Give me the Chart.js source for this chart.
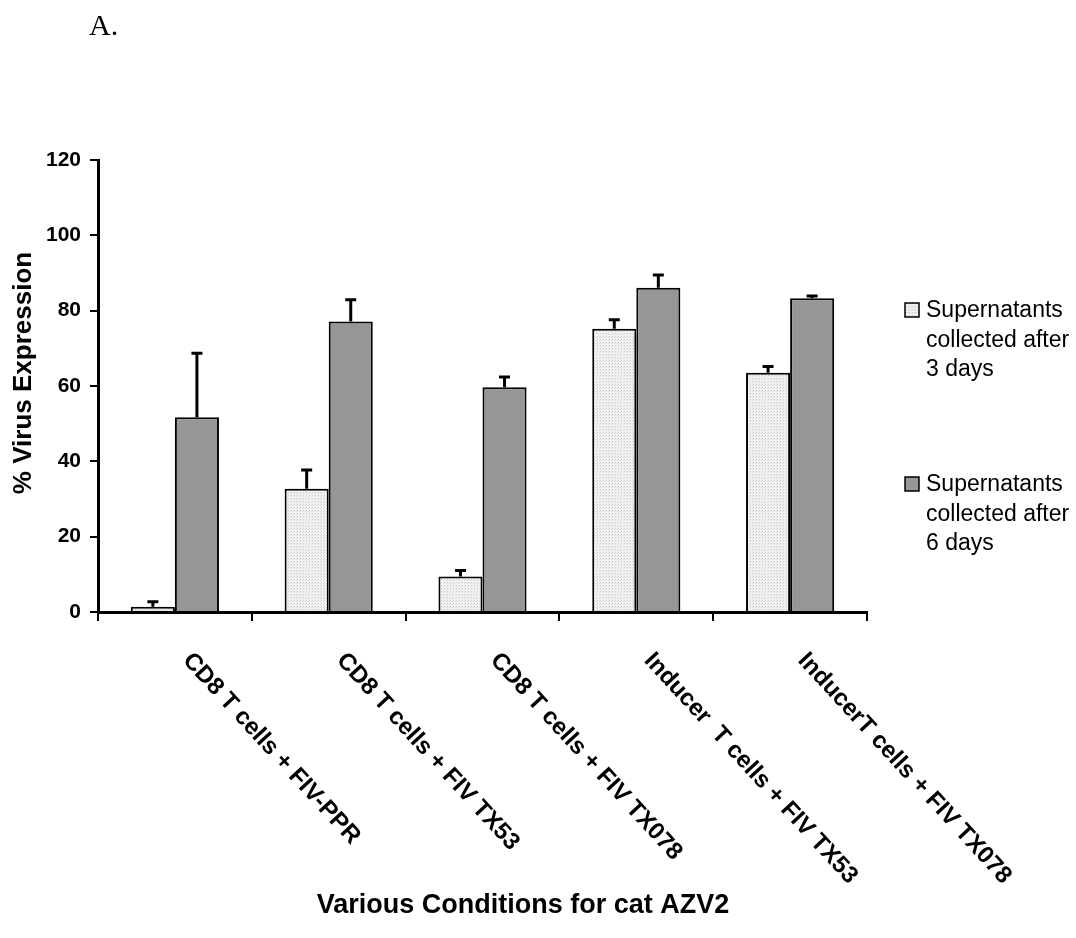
<!DOCTYPE html>
<html>
<head>
<meta charset="utf-8">
<script src="https://cdn.jsdelivr.net/npm/chart.js@4.4.1/dist/chart.umd.min.js"></script>
<style>
html,body{margin:0;padding:0;background:#fff;}
canvas{display:block;}
</style>
</head>
<body>
<canvas id="c" width="1076" height="938"></canvas>
<script>
// ---- data ----
const categories = [
  "CD8 T cells + FIV-PPR",
  "CD8 T cells + FIV TX53",
  "CD8 T cells + FIV TX078",
  "Inducer  T cells + FIV TX53",
  "InducerT cells + FIV TX078"
];
const day3Values = [1.4, 32.7, 9.4, 75.2, 63.5];
const day3Errors = [1.3, 5.0, 1.6, 2.4, 1.7];
const day6Values = [51.7, 77.1, 59.7, 86.1, 83.3];
const day6Errors = [17.0, 5.8, 2.7, 3.4, 0.6];
const seriesLabels = [
  ["Supernatants", "collected after", "3 days"],
  ["Supernatants", "collected after", "6 days"]
];
const yTicks = [0, 20, 40, 60, 80, 100, 120];
const xTitle = "Various Conditions for cat AZV2";
const yTitle = "% Virus Expression";
const panelLabel = "A.";

// ---- styles ----
function makePattern() {
  const p = document.createElement('canvas');
  p.width = 3; p.height = 3;
  const g = p.getContext('2d');
  g.fillStyle = '#f2f2f2';
  g.fillRect(0, 0, 3, 3);
  g.fillStyle = '#c4c4c4';
  g.fillRect(0, 0, 1, 1);
  g.fillStyle = '#d8d8d8';
  g.fillRect(2, 1, 1, 1);
  return document.getElementById('c').getContext('2d').createPattern(p, 'repeat');
}
const lightFill = makePattern();
const darkFill = '#969696';
const SANS = '"Liberation Sans", Arial, sans-serif';

const errorBars = {
  id: 'errorBars',
  afterDatasetsDraw(chart) {
    const ctx = chart.ctx;
    const y = chart.scales.y;
    const errs = [day3Errors, day6Errors];
    ctx.save();
    ctx.strokeStyle = '#000';
    ctx.lineWidth = 3;
    chart.data.datasets.forEach((ds, di) => {
      const meta = chart.getDatasetMeta(di);
      meta.data.forEach((bar, i) => {
        const top = y.getPixelForValue(ds.data[i] + errs[di][i]);
        const base = y.getPixelForValue(ds.data[i]);
        ctx.beginPath();
        ctx.moveTo(bar.x, base);
        ctx.lineTo(bar.x, top);
        ctx.moveTo(bar.x - 5.5, top);
        ctx.lineTo(bar.x + 5.5, top);
        ctx.stroke();
      });
    });
    ctx.restore();
  }
};

const decorations = {
  id: 'decorations',
  afterDraw(chart) {
    const ctx = chart.ctx;
    const xs = chart.scales.x;
    const area = chart.chartArea;
    ctx.save();
    ctx.fillStyle = '#000';
    // rotated category labels
    ctx.font = 'bold 24px ' + SANS;
    ctx.textAlign = 'left';
    ctx.textBaseline = 'alphabetic';
    categories.forEach((c, i) => {
      const px = xs.getPixelForValue(i);
      ctx.save();
      ctx.translate(px + 7, area.bottom + 49);
      ctx.rotate(47.5 * Math.PI / 180);
      ctx.fillText(c, 0, 0);
      ctx.restore();
    });
    // x title
    ctx.font = 'bold 27px ' + SANS;
    ctx.textAlign = 'center';
    ctx.textBaseline = 'middle';
    ctx.fillText(xTitle, 523, 906);
    // y title
    ctx.save();
    ctx.translate(24, 373);
    ctx.rotate(-Math.PI / 2);
    ctx.font = 'bold 26px ' + SANS;
    ctx.fillText(yTitle, 0, 0);
    ctx.restore();
    // panel label
    ctx.font = '30px "Liberation Serif", "Times New Roman", serif';
    ctx.textAlign = 'left';
    ctx.textBaseline = 'alphabetic';
    ctx.fillText(panelLabel, 89, 35);
    // legend
    const fills = [lightFill, darkFill];
    const legendTop = [303, 477];
    ctx.font = '23px ' + SANS;
    ctx.textBaseline = 'middle';
    seriesLabels.forEach((lines, k) => {
      const by = legendTop[k];
      ctx.fillStyle = fills[k];
      ctx.fillRect(905, by, 14, 14);
      ctx.strokeStyle = '#000';
      ctx.lineWidth = 1.5;
      ctx.strokeRect(905, by, 14, 14);
      ctx.fillStyle = '#000';
      lines.forEach((t, j) => {
        ctx.fillText(t, 926, by + 8 + j * 29.5);
      });
    });
    ctx.restore();
  }
};

new Chart(document.getElementById('c'), {
  type: 'bar',
  data: {
    labels: categories,
    datasets: [
      { label: seriesLabels[0].join(' '), data: day3Values, backgroundColor: lightFill, borderColor: '#000', borderWidth: 2, borderSkipped: 'bottom' },
      { label: seriesLabels[1].join(' '), data: day6Values, backgroundColor: darkFill, borderColor: '#000', borderWidth: 2, borderSkipped: 'bottom' }
    ]
  },
  options: {
    responsive: false,
    animation: false,
    devicePixelRatio: 1,
    layout: { padding: { top: 160, right: 209, left: 0, bottom: 0 } },
    datasets: { bar: { categoryPercentage: 0.573, barPercentage: 1.0 } },
    plugins: { legend: { display: false }, tooltip: { enabled: false } },
    scales: {
      x: {
        grid: { display: true, offset: true, drawOnChartArea: false, drawTicks: true, tickLength: 9, color: '#000', lineWidth: 2 },
        border: { display: true, color: '#000', width: 3 },
        ticks: { display: false },
        afterFit(s) { s.height = 938 - 612; }
      },
      y: {
        min: 0, max: 120,
        afterBuildTicks(s) { s.ticks = yTicks.map(v => ({ value: v })); },
        grid: { display: true, drawOnChartArea: false, drawTicks: true, tickLength: 8, color: '#000', lineWidth: 2 },
        border: { display: true, color: '#000', width: 3 },
        ticks: { color: '#000', padding: 9, font: { family: SANS, size: 21, weight: 'bold' } },
        afterFit(s) { s.width = 98; }
      }
    }
  },
  plugins: [errorBars, decorations]
});
</script>
</body>
</html>
